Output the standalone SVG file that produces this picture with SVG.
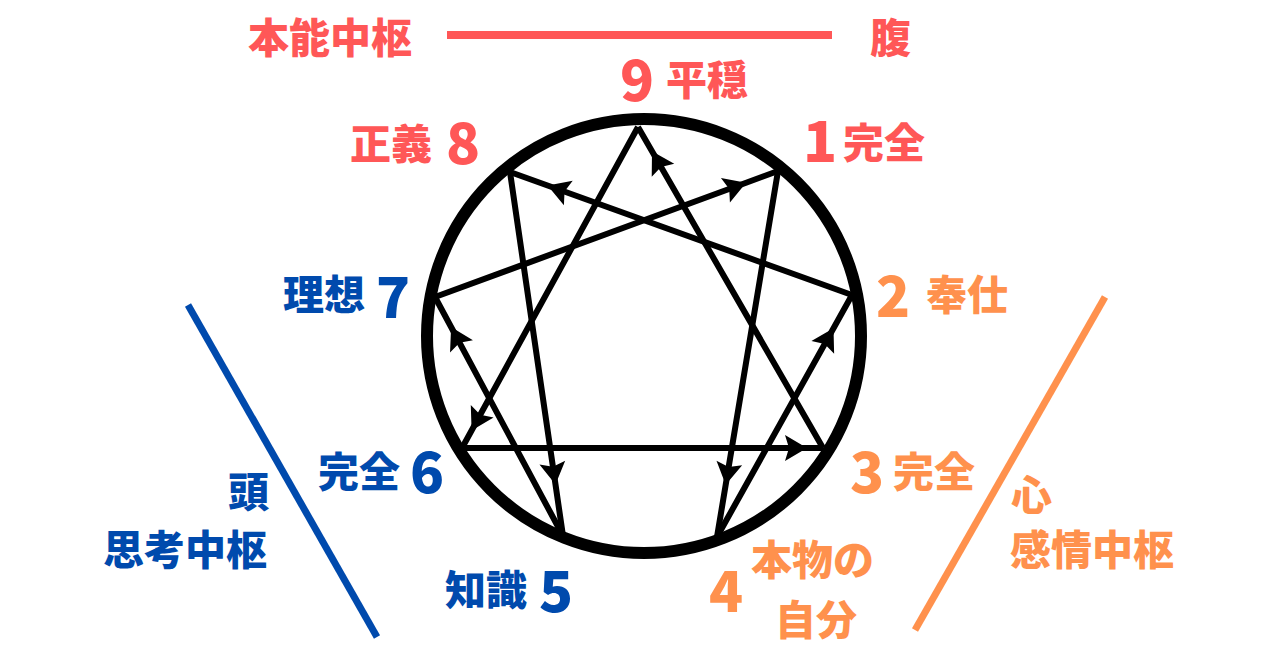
<svg xmlns="http://www.w3.org/2000/svg" width="1280" height="670" viewBox="0 0 1280 670">
<style>
text{font-family:"Noto Sans CJK JP","Noto Sans",sans-serif;font-weight:900;}
.j{font-size:41px;}
.d{font-size:56px;}
.red{fill:#FF5757;}
.org{fill:#FF914D;}
.blu{fill:#004AAD;}
.conn path{fill:none;stroke:#000;stroke-width:6;marker-mid:url(#ah);}
</style>
<defs>
<marker id="ah" markerUnits="userSpaceOnUse" viewBox="-24 -15 26 30" refX="0" refY="0" markerWidth="26" markerHeight="30" orient="auto">
<path d="M0,0 L-22,-13 L-18,0 L-22,13 Z" fill="#000"/>
</marker>
</defs>
<rect width="1280" height="670" fill="#fff"/>
<g id="centers">
<line x1="447" y1="35" x2="832" y2="35" stroke="#FF5757" stroke-width="8"/>
<line x1="188" y1="305" x2="377" y2="637" stroke="#004AAD" stroke-width="7"/>
<line x1="1105" y1="297" x2="915" y2="630" stroke="#FF914D" stroke-width="7"/>
<text class="j red" x="248" y="53">本能中枢</text>
<text class="j red" x="870" y="53">腹</text>
<text class="j blu" x="228" y="507">頭</text>
<text class="j blu" x="103" y="565">思考中枢</text>
<text class="j org" x="1011" y="510">心</text>
<text class="j org" x="1010" y="565">感情中枢</text>
</g>
<circle id="ring" cx="644" cy="336" r="217" fill="none" stroke="#000" stroke-width="12"/>
<g id="connectors" class="conn">
<path d="M462,448 L807,448 L823,448"/>
<path d="M823,448 L652,151.3 L638,127"/>
<path d="M638,127 L471.6,430.5 L462,448"/>
<path d="M435,297 L746.1,182.7 L778,171"/>
<path d="M852,295 L547.6,185.5 L510,172"/>
<path d="M510,172 L555.5,484.5 L563,536"/>
<path d="M778,171 L725.7,484.7 L717,537"/>
<path d="M563,536 L451.1,327 L435,297"/>
<path d="M717,537 L833.5,328.2 L852,295"/>
</g>
<g id="n9"><text class="d red" x="620" y="101">9</text><text class="j red" x="666" y="95">平穏</text></g>
<g id="n8"><text class="j red" x="350" y="159">正義</text><text class="d red" x="446" y="164">8</text></g>
<g id="n1"><text class="d red" x="803" y="162">1</text><text class="j red" x="843" y="158">完全</text></g>
<g id="n7"><text class="j blu" x="283" y="310">理想</text><text class="d blu" x="376" y="318">7</text></g>
<g id="n2"><text class="d org" x="876" y="317">2</text><text class="j org" x="926" y="310">奉仕</text></g>
<g id="n6"><text class="j blu" x="318" y="487">完全</text><text class="d blu" x="410" y="493">6</text></g>
<g id="n3"><text class="d org" x="850" y="493">3</text><text class="j org" x="893" y="487">完全</text></g>
<g id="n5"><text class="j blu" x="445" y="605">知識</text><text class="d blu" x="539" y="612">5</text></g>
<g id="n4"><text class="d org" x="709" y="612">4</text><text class="j org" x="751" y="575">本物の</text><text class="j org" x="775" y="635">自分</text></g>
</svg>
